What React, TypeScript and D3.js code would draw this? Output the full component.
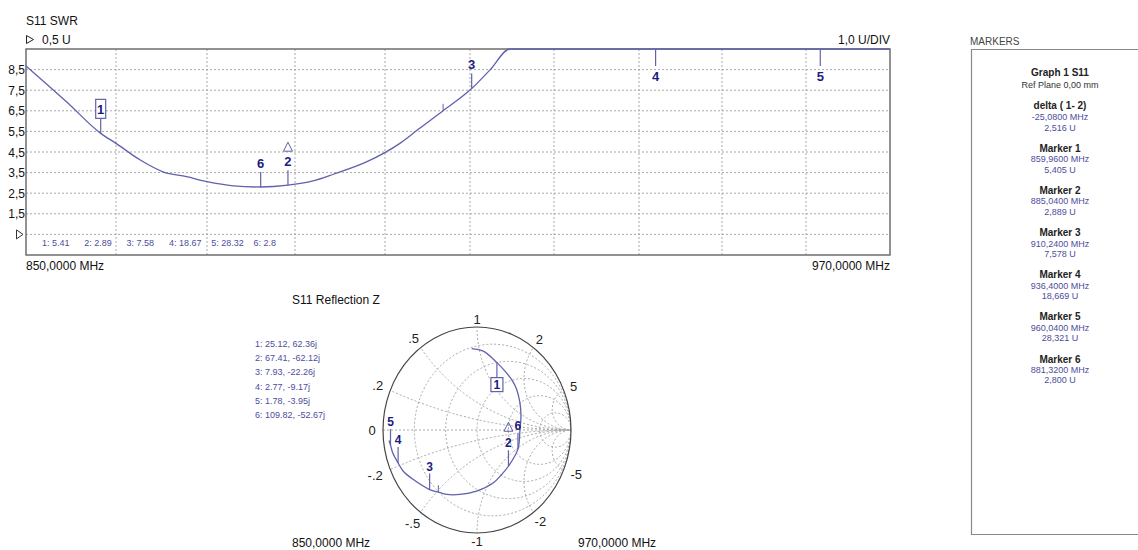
import React from 'react';
import * as d3 from 'd3';

// ---------- data ----------
const freqGrid = [850, 862, 874, 886, 898, 910, 922, 934, 946, 958, 970];
const yGridValues = [8.5, 7.5, 6.5, 5.5, 4.5, 3.5, 2.5, 1.5, 0.5];
const yTickLabels = ['8,5', '7,5', '6,5', '5,5', '4,5', '3,5', '2,5', '1,5'];

const swrFreq = [850, 855.4, 859.96, 862, 865.2, 868.2, 871.3, 874, 877.6, 881.32, 885.04, 888.4, 891.1, 895.6, 900.1, 902.7, 906.2, 910.24, 912.9, 915.7, 920, 936.4, 960.04, 970];
const swrValue = [8.68, 6.94, 5.405, 4.92, 4.11, 3.54, 3.3, 3.06, 2.86, 2.8, 2.889, 3.1, 3.42, 4.03, 4.92, 5.6, 6.5, 7.578, 8.5, 9.5, 11.5, 18.669, 28.321, 30.5];

const markerIds = [1, 2, 3, 4, 5, 6];
const markerFreq = [859.96, 885.04, 910.24, 936.4, 960.04, 881.32];
const markerSwr = [5.405, 2.889, 7.578, 18.669, 28.321, 2.8];
const markerZRe = [25.12, 67.41, 7.93, 2.77, 1.78, 109.82];
const markerZIm = [62.36, -62.12, -22.26, -9.17, -3.95, -52.67];

const cursorFreq = 906.2;
const cursorSwr = 6.5;
const cursorGamma = [-0.411, -0.604];

// Smith trace (reflection coefficient)
const traceRe = [-0.056, 0.067, 0.212, 0.298, 0.379, 0.422, 0.457, 0.468, 0.457, 0.4355, 0.334, 0.262, 0.174, -0.004, -0.181, -0.322, -0.411, -0.504, -0.677, -0.784, -0.8395, -0.897, -0.92, -0.936];
const traceIm = [0.791, 0.765, 0.654, 0.571, 0.474, 0.393, 0.264, 0.134, 0.005, -0.186, -0.352, -0.432, -0.513, -0.594, -0.626, -0.626, -0.604, -0.578, -0.481, -0.4, -0.3197, -0.221, -0.1465, -0.102];

const smithR = [0.2, 0.5, 1, 2, 5];
const smithX = [0.2, 0.5, 1, 2, 5];
const smithXLabels = ['.2', '.5', '1', '2', '5'];
const Z0 = 50;

// ---------- helpers ----------
const FONT = '"Liberation Sans", Arial, sans-serif';
const TRACE = '#6161ad';
const NAVY = '#1c1c80';
const READ = '#4d4d9c';
const GRID = '#a8a8a8';

function gammaOf(r: number, x: number): [number, number] {
  const nr = r - 1, ni = x;
  const dr = r + 1, di = x;
  const den = dr * dr + di * di;
  return [(nr * dr + ni * di) / den, (ni * dr - nr * di) / den];
}
const commaFix = (v: number, d: number) => v.toFixed(d).replace('.', ',');

export default function App() {
  // SWR plot
  const PL = 26, PR = 890, PT = 49, PB = 255;
  const x = d3.scaleLinear().domain(freqGrid).range([26, 116, 207, 295, 385, 470, 554, 639, 722, 806, 890]);
  const y = d3.scaleLinear().domain([-0.5, 9.5]).range([PB, PT]).clamp(true);
  const swrLine = d3.line<number>()
    .x((i) => x(swrFreq[i]))
    .y((i) => y(swrValue[i]))
    .curve(d3.curveMonotoneX)(d3.range(swrFreq.length)) as string;

  // Smith chart
  const sx = d3.scaleLinear().domain([-1, 1]).range([383, 571]);
  const sy = d3.scaleLinear().domain([-1, 1]).range([533, 327]);
  const RX = (sx(1) - sx(-1)) / 2;
  const RY = (sy(-1) - sy(1)) / 2;
  const traceLine = d3.line<number>()
    .x((i) => sx(traceRe[i]))
    .y((i) => sy(traceIm[i]))
    .curve(d3.curveCatmullRom.alpha(0.5))(d3.range(traceRe.length)) as string;

  const smithLabels: { t: string; g: [number, number] }[] = [];
  smithX.forEach((xv, i) => {
    smithLabels.push({ t: smithXLabels[i], g: gammaOf(0, xv) });
    smithLabels.push({ t: '-' + smithXLabels[i], g: gammaOf(0, -xv) });
  });
  smithLabels.push({ t: '0', g: [-1, 0] });

  const markerGamma = markerIds.map((_, i) => gammaOf(markerZRe[i] / Z0, markerZIm[i] / Z0));

  return (
    <svg width={1138} height={550} style={{ position: 'absolute', left: 0, top: 0, background: '#fff' }} fontFamily={FONT}>
      <rect x={0} y={0} width={1138} height={550} fill="#fff" />
      {/* ---------- SWR chart ---------- */}
      <text x={PL} y={25} fontSize={12} fill="#111">S11 SWR</text>
      <path d="M26.5,35.5 L33.5,39.5 L26.5,43.5 Z" fill="none" stroke="#222" strokeWidth={1} />
      <text x={42} y={43.5} fontSize={12} fill="#111">0,5 U</text>
      <text x={PR} y={43.5} fontSize={12} fill="#111" textAnchor="end">1,0 U/DIV</text>

      {freqGrid.slice(1, -1).map((f) => (
        <line key={'vg' + f} x1={x(f)} x2={x(f)} y1={PT} y2={PB} stroke={GRID} strokeDasharray="2,2" strokeWidth={1} />
      ))}
      {yGridValues.map((v) => (
        <line key={'hg' + v} x1={PL} x2={PR} y1={y(v)} y2={y(v)} stroke={GRID} strokeDasharray="2,2" strokeWidth={1} />
      ))}
      {yTickLabels.map((t, i) => (
        <text key={'yl' + t} x={25} y={y(yGridValues[i]) + 4.5} fontSize={12} fill="#111" textAnchor="end">{t}</text>
      ))}
      <path d={`M16.5,${y(0.5) - 4.5} L23,${y(0.5)} L16.5,${y(0.5) + 4.5} Z`} fill="none" stroke="#333" strokeWidth={1} />

      <rect x={PL} y={PT} width={PR - PL} height={PB - PT} fill="none" stroke="#6d6d6d" strokeWidth={1.5} />
      <path d={swrLine} fill="none" stroke={TRACE} strokeWidth={1.3} />

      {/* cursor tick */}
      <line x1={x(cursorFreq)} x2={x(cursorFreq)} y1={y(cursorSwr) - 7} y2={y(cursorSwr)} stroke={TRACE} strokeWidth={1} />

      {/* markers on SWR */}
      {markerIds.map((id, i) => {
        const mx = x(markerFreq[i]);
        const v = markerSwr[i];
        if (v > 9.5) {
          return (
            <g key={'sm' + id}>
              <line x1={mx} x2={mx} y1={PT} y2={PT + 17} stroke={TRACE} strokeWidth={1.2} />
              <text x={mx} y={PT + 32} fontSize={13} fontWeight="bold" fill={NAVY} textAnchor="middle">{id}</text>
            </g>
          );
        }
        const my = y(v);
        return (
          <g key={'sm' + id}>
            <line x1={mx} x2={mx} y1={my - 15} y2={my} stroke={TRACE} strokeWidth={1.2} />
            {id === 1 && <rect x={mx - 5} y={my - 34} width={10} height={19} fill="#fff" stroke={TRACE} strokeWidth={1.2} />}
            {id === 2 && <path d={`M${mx},${my - 43} L${mx + 4.5},${my - 34} L${mx - 4.5},${my - 34} Z`} fill="none" stroke={TRACE} strokeWidth={1} />}
            <text x={mx} y={my - 19.5} fontSize={13} fontWeight="bold" fill={NAVY} textAnchor="middle">{id}</text>
          </g>
        );
      })}

      {/* marker readouts inside plot */}
      {markerIds.map((id, i) => (
        <text key={'ro' + id} x={PL + 16 + i * 42.3} y={246} fontSize={9} fill={READ}>
          {`${id}: ${+markerSwr[i].toFixed(2)}`}
        </text>
      ))}

      <text x={PL} y={270} fontSize={12} fill="#111">{`${commaFix(freqGrid[0], 4)} MHz`}</text>
      <text x={PR} y={270} fontSize={12} fill="#111" textAnchor="end">{`${commaFix(freqGrid[freqGrid.length - 1], 4)} MHz`}</text>

      {/* ---------- Smith chart ---------- */}
      <text x={292} y={304} fontSize={12} fill="#111">S11 Reflection Z</text>
      {markerIds.map((id, i) => (
        <text key={'sl' + id} x={255} y={347 + i * 14.2} fontSize={9} fill={READ}>
          {`${id}: ${markerZRe[i].toFixed(2)}, ${markerZIm[i].toFixed(2)}j`}
        </text>
      ))}
      <defs>
        <clipPath id="smithClip">
          <ellipse cx={sx(0)} cy={sy(0)} rx={RX} ry={RY} />
        </clipPath>
      </defs>
      <g clipPath="url(#smithClip)">
        {smithR.map((r) => (
          <ellipse key={'r' + r} cx={sx(r / (1 + r))} cy={sy(0)} rx={RX / (1 + r)} ry={RY / (1 + r)}
            fill="none" stroke={GRID} strokeDasharray="2,2" strokeWidth={1} />
        ))}
        {smithX.map((xv) => (
          <g key={'x' + xv}>
            <ellipse cx={sx(1)} cy={sy(1 / xv)} rx={RX / xv} ry={RY / xv} fill="none" stroke={GRID} strokeDasharray="2,2" strokeWidth={1} />
            <ellipse cx={sx(1)} cy={sy(-1 / xv)} rx={RX / xv} ry={RY / xv} fill="none" stroke={GRID} strokeDasharray="2,2" strokeWidth={1} />
          </g>
        ))}
        <line x1={sx(-1)} x2={sx(1)} y1={sy(0)} y2={sy(0)} stroke={GRID} strokeDasharray="2,2" strokeWidth={1} />
      </g>
      <ellipse cx={sx(0)} cy={sy(0)} rx={RX} ry={RY} fill="none" stroke="#444" strokeWidth={1.2} />
      {smithLabels.map((l) => {
        const [gr, gi] = l.g;
        const off = 8 + 3 * l.t.length * Math.abs(gr);
        const px = sx(gr) + gr * off;
        const py = sy(gi) - gi * off;
        return (
          <text key={'lab' + l.t} x={px} y={py + 4.5} fontSize={13} fill="#222" textAnchor="middle">{l.t}</text>
        );
      })}
      <path d={traceLine} fill="none" stroke={TRACE} strokeWidth={1.3} />
      <line x1={sx(cursorGamma[0])} x2={sx(cursorGamma[0])} y1={sy(cursorGamma[1]) - 7} y2={sy(cursorGamma[1])} stroke={TRACE} strokeWidth={1} />
      {markerIds.map((id, i) => {
        const [gr, gi] = markerGamma[i];
        const mx = sx(gr), my = sy(gi);
        if (id === 1) {
          return (
            <g key={'zm' + id}>
              <line x1={mx} x2={mx} y1={my} y2={my + 15} stroke={TRACE} strokeWidth={1.2} />
              <rect x={mx - 6} y={my + 15} width={12} height={14} fill="#fff" stroke={TRACE} strokeWidth={1.2} />
              <text x={mx} y={my + 26.5} fontSize={12} fontWeight="bold" fill={NAVY} textAnchor="middle">{id}</text>
            </g>
          );
        }
        return (
          <g key={'zm' + id}>
            <line x1={mx} x2={mx} y1={my - 16} y2={my} stroke={TRACE} strokeWidth={1.2} />
            {id === 2 && <path d={`M${mx},${my - 44} L${mx + 4.5},${my - 35} L${mx - 4.5},${my - 35} Z`} fill="none" stroke={TRACE} strokeWidth={1} />}
            <text x={mx} y={my - 19} fontSize={12} fontWeight="bold" fill={NAVY} textAnchor="middle">{id}</text>
          </g>
        );
      })}
      <text x={292} y={547} fontSize={12} fill="#111">{`${commaFix(freqGrid[0], 4)} MHz`}</text>
      <text x={578} y={547} fontSize={12} fill="#111">{`${commaFix(freqGrid[freqGrid.length - 1], 4)} MHz`}</text>

      {/* ---------- Markers panel ---------- */}
      <text x={970} y={45} fontSize={10} fill="#444">MARKERS</text>
      <path d="M1138,49.5 L971.5,49.5 L971.5,534.5 L1138,534.5" fill="none" stroke="#8a8a8a" strokeWidth={1.2} />
      <text x={1060} y={76} fontSize={10} fontWeight="bold" fill="#222" textAnchor="middle">Graph 1 S11</text>
      <text x={1060} y={88} fontSize={9} fill="#333" textAnchor="middle">Ref Plane 0,00 mm</text>
      <text x={1060} y={109} fontSize={10} fontWeight="bold" fill="#222" textAnchor="middle">delta ( 1- 2)</text>
      <text x={1060} y={120} fontSize={9} fill={READ} textAnchor="middle">{`${commaFix(markerFreq[0] - markerFreq[1], 4)} MHz`}</text>
      <text x={1060} y={130.5} fontSize={9} fill={READ} textAnchor="middle">{`${commaFix(markerSwr[0] - markerSwr[1], 3)} U`}</text>
      {markerIds.map((id, i) => {
        const b = 152 + i * 42.1;
        return (
          <g key={'pm' + id}>
            <text x={1060} y={b} fontSize={10} fontWeight="bold" fill="#222" textAnchor="middle">{`Marker  ${id}`}</text>
            <text x={1060} y={b + 10.3} fontSize={9} fill={READ} textAnchor="middle">{`${commaFix(markerFreq[i], 4)} MHz`}</text>
            <text x={1060} y={b + 20.6} fontSize={9} fill={READ} textAnchor="middle">{`${commaFix(markerSwr[i], 3)} U`}</text>
          </g>
        );
      })}
    </svg>
  );
}
